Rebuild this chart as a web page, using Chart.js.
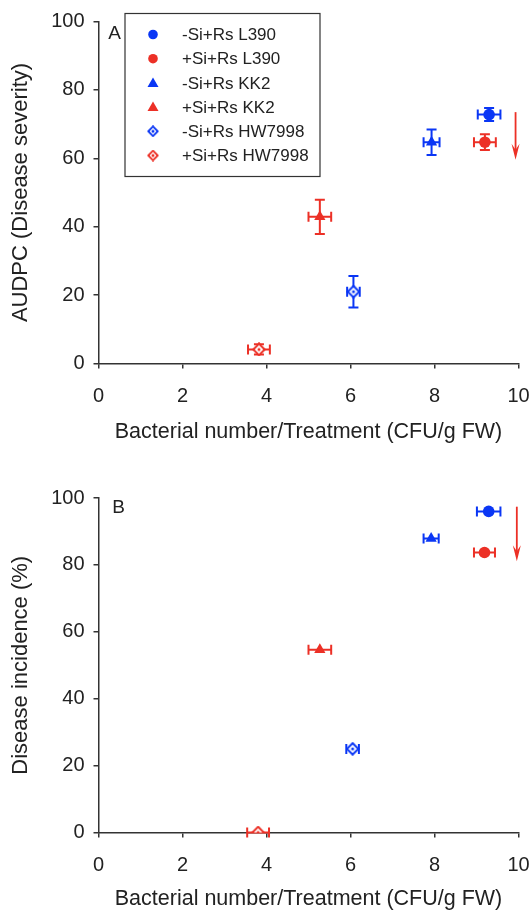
<!DOCTYPE html>
<html><head><meta charset="utf-8">
<script src="https://cdn.jsdelivr.net/npm/chart.js@4.4.0/dist/chart.umd.min.js"></script>
<style>
html,body{margin:0;padding:0;background:#fff;overflow:hidden;}
#wrap{position:relative;width:532px;height:911px;}
canvas{position:absolute;left:0;}
#cA{top:0;}
#cB{top:455px;}
</style></head><body>
<div id="wrap">
<canvas id="cA" width="532" height="455"></canvas>
<canvas id="cB" width="532" height="456"></canvas>
</div>
<script>
// ---------- DATA ----------
const groups = ['-Si+Rs L390', '+Si+Rs L390', '-Si+Rs KK2', '+Si+Rs KK2', '-Si+Rs HW7998', '+Si+Rs HW7998'];
// Panel A
const bacteriaA = [9.30, 9.20, 7.93, 5.27, 6.07, 3.82];
const bacteriaErrA = [0.27, 0.26, 0.19, 0.27, 0.15, 0.26];
const audpc = [72.8, 64.7, 64.7, 42.9, 21.0, 4.1];
const audpcErr = [1.9, 2.3, 3.7, 5.0, 4.6, 1.5];
// Panel B
const bacteriaB = [9.29, 9.19, 7.92, 5.27, 6.05, 3.80];
const bacteriaErrB = [0.28, 0.25, 0.18, 0.27, 0.15, 0.26];
const incidence = [96.0, 83.7, 87.9, 54.6, 25.0, 0.0];
const incidenceErr = [0, 0, 0, 0, 0, 0];
// Tick labels
const xTicks = [0, 2, 4, 6, 8, 10];
const yTicks = [0, 20, 40, 60, 80, 100];
// Arrow annotations (data units): x, yStart, yEnd
const arrowA = [9.93, 73.5, 59.6];
const arrowB = [9.96, 97.4, 81.1];

// ---------- STYLE ----------
const FONT = '"Liberation Sans", Arial, Helvetica, sans-serif';
const BLUE = '#0a36f5';
const RED = '#ec3026';
const groupColor = [BLUE, RED, BLUE, RED, BLUE, RED];
const groupShape = ['circle', 'circle', 'triangle', 'triangle', 'diamond', 'diamond'];
const AXIS = '#333333';
const TEXT = '#222222';

function diamondImg(color, size, lw) {
  const c = document.createElement('canvas');
  c.width = size; c.height = size;
  const g = c.getContext('2d');
  const m = size / 2, r = size / 2 - lw / 2 - 0.3;
  g.beginPath();
  g.moveTo(m, m - r); g.lineTo(m + r, m); g.lineTo(m, m + r); g.lineTo(m - r, m); g.closePath();
  g.fillStyle = '#fff'; g.fill();
  g.lineWidth = lw; g.strokeStyle = color; g.stroke();
  g.beginPath(); g.arc(m, m, 1.5, 0, Math.PI * 2); g.fillStyle = color; g.fill();
  return c;
}

function pointStyleFor(i) {
  const s = groupShape[i];
  if (s === 'diamond') return diamondImg(groupColor[i], 14, 2);
  return s;
}

const errorBars = {
  id: 'errorBars',
  beforeDatasetsDraw(chart) {
    const { ctx, scales: { x, y } } = chart;
    ctx.save();
    ctx.lineWidth = 2;
    const cap = 5;
    chart.data.datasets.forEach(ds => {
      ds.data.forEach(p => {
        const px = x.getPixelForValue(p.x), py = y.getPixelForValue(p.y);
        ctx.strokeStyle = ds.borderColor;
        ctx.beginPath();
        if (p.xErr > 0) {
          const l = x.getPixelForValue(p.x - p.xErr), r = x.getPixelForValue(p.x + p.xErr);
          ctx.moveTo(l, py); ctx.lineTo(r, py);
          ctx.moveTo(l, py - cap); ctx.lineTo(l, py + cap);
          ctx.moveTo(r, py - cap); ctx.lineTo(r, py + cap);
        }
        if (p.yErr > 0) {
          const t = y.getPixelForValue(p.y + p.yErr), b = y.getPixelForValue(p.y - p.yErr);
          ctx.moveTo(px, t); ctx.lineTo(px, b);
          ctx.moveTo(px - cap, t); ctx.lineTo(px + cap, t);
          ctx.moveTo(px - cap, b); ctx.lineTo(px + cap, b);
        }
        ctx.stroke();
      });
    });
    ctx.restore();
  }
};

const extras = {
  id: 'extras',
  afterDatasetsDraw(chart, args, opts) {
    const { ctx, chartArea, scales: { x, y } } = chart;
    ctx.save();
    // arrow
    const a = opts.arrow;
    const ax = x.getPixelForValue(a[0]);
    const y1 = y.getPixelForValue(a[1]), y2 = y.getPixelForValue(a[2]);
    ctx.strokeStyle = RED; ctx.fillStyle = RED; ctx.lineWidth = 1.8;
    ctx.beginPath(); ctx.moveTo(ax, y1); ctx.lineTo(ax, y2 - 8); ctx.stroke();
    ctx.beginPath();
    ctx.moveTo(ax, y2); ctx.lineTo(ax - 4, y2 - 16); ctx.lineTo(ax, y2 - 10); ctx.lineTo(ax + 4, y2 - 16); ctx.closePath();
    ctx.fill();
    // panel letter
    ctx.fillStyle = TEXT;
    ctx.font = '19px ' + FONT;
    ctx.textAlign = 'center'; ctx.textBaseline = 'middle';
    ctx.fillText(opts.letter, chartArea.left + opts.letterDx, chartArea.top + opts.letterDy);
    // legend
    if (opts.legend) {
      const L = opts.legend;
      ctx.strokeStyle = AXIS; ctx.lineWidth = 1.2;
      ctx.strokeRect(L.x, L.y, L.w, L.h);
      ctx.font = '17px ' + FONT;
      ctx.textAlign = 'left'; ctx.textBaseline = 'middle';
      groups.forEach((g, i) => {
        const cy = L.y + L.first + i * L.step;
        const mx = L.x + L.markerDx;
        const col = groupColor[i];
        ctx.fillStyle = col;
        if (groupShape[i] === 'circle') {
          ctx.beginPath(); ctx.arc(mx, cy, 4.8, 0, Math.PI * 2); ctx.fill();
        } else if (groupShape[i] === 'triangle') {
          ctx.beginPath(); ctx.moveTo(mx, cy - 5.5); ctx.lineTo(mx + 5.5, cy + 4); ctx.lineTo(mx - 5.5, cy + 4); ctx.closePath(); ctx.fill();
        } else {
          const im = diamondImg(col, 12, 1.8);
          ctx.drawImage(im, mx - 6, cy - 6);
        }
        ctx.fillStyle = TEXT;
        ctx.fillText(g, L.x + L.textDx, cy + 1);
      });
    }
    ctx.restore();
  }
};

function makeChart(canvasId, xs, xErr, ys, yErr, cfg) {
  const datasets = groups.map((g, i) => ({
    label: g,
    data: [{ x: xs[i], y: ys[i], xErr: xErr[i], yErr: yErr[i] }],
    pointStyle: pointStyleFor(i),
    pointRadius: groupShape[i] === 'triangle' ? 6.5 : 5.8,
    pointHoverRadius: groupShape[i] === 'triangle' ? 6.5 : 5.8,
    backgroundColor: groupColor[i],
    borderColor: groupColor[i],
    borderWidth: 0,
    showLine: false
  }));
  return new Chart(document.getElementById(canvasId), {
    type: 'scatter',
    data: { datasets },
    plugins: [errorBars, extras],
    options: {
      responsive: false,
      animation: false,
      layout: { padding: { left: 0, right: 13.5, top: cfg.padTop, bottom: 0 } },
      plugins: {
        legend: { display: false },
        tooltip: { enabled: false },
        extras: cfg.extras
      },
      scales: {
        x: {
          type: 'linear', min: 0, max: 10,
          afterBuildTicks(s) { s.ticks = xTicks.map(v => ({ value: v })); },
          ticks: { color: TEXT, font: { family: FONT, size: 20 }, padding: 16, maxRotation: 0 },
          grid: { display: true, drawOnChartArea: false, drawTicks: true, tickLength: 5, color: AXIS, lineWidth: 1.5 },
          border: { display: true, color: AXIS, width: 1.5 },
          title: { display: true, text: 'Bacterial number/Treatment (CFU/g FW)', color: TEXT,
                   font: { family: FONT, size: 21.5, lineHeight: 1 }, padding: { top: 0, bottom: cfg.xTitlePad } },
          afterFit(s) { s.height = cfg.xHeight; s.paddingLeft = 0; s.paddingRight = 0; }
        },
        y: {
          type: 'linear', min: 0, max: 100,
          afterBuildTicks(s) { s.ticks = yTicks.map(v => ({ value: v })); },
          ticks: { color: TEXT, font: { family: FONT, size: 20 }, padding: 9 },
          grid: { display: true, drawOnChartArea: false, drawTicks: true, tickLength: 5, color: AXIS, lineWidth: 1.5 },
          border: { display: true, color: AXIS, width: 1.5 },
          title: { display: true, text: cfg.yTitle, color: TEXT,
                   font: { family: FONT, size: 22, lineHeight: 1 }, padding: { top: 10, bottom: 0 } },
          afterFit(s) { s.width = 98.5; }
        }
      }
    }
  });
}

makeChart('cA', bacteriaA, bacteriaErrA, audpc, audpcErr, {
  padTop: 21.5, xHeight: 91.5, xTitlePad: 12, yTitle: 'AUDPC (Disease severity)',
  extras: {
    arrow: arrowA, letter: 'A', letterDx: 16, letterDy: 12,
    legend: { x: 125, y: 13.5, w: 195, h: 163, first: 21, step: 24.2, markerDx: 28, textDx: 57 }
  }
});

makeChart('cB', bacteriaB, bacteriaErrB, incidence, incidenceErr, {
  padTop: 43, xHeight: 78.5, xTitlePad: 1.5, yTitle: 'Disease incidence (%)',
  extras: { arrow: arrowB, letter: 'B', letterDx: 20, letterDy: 10 }
});
</script>
</body></html>
